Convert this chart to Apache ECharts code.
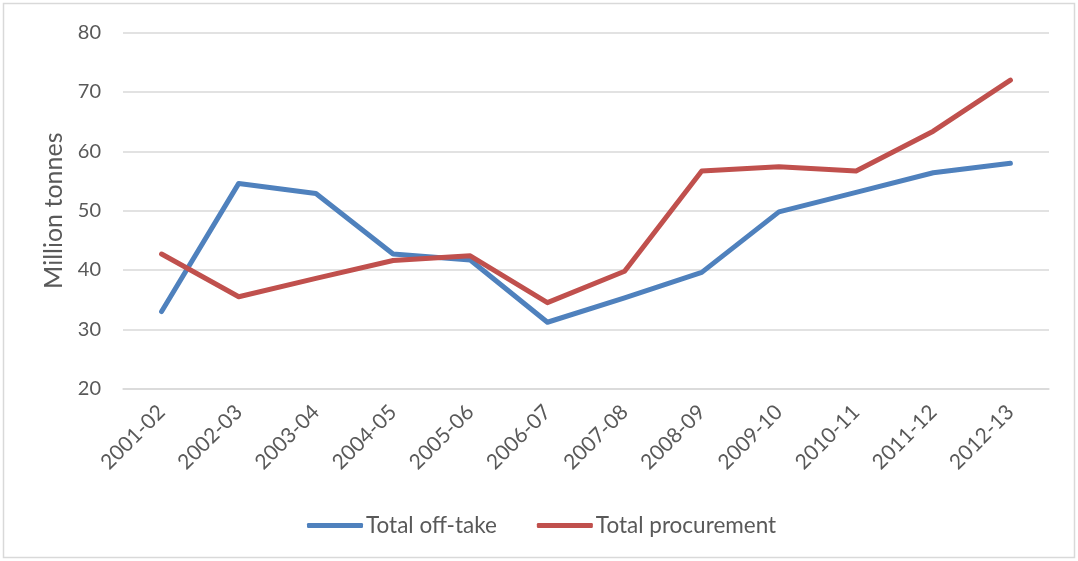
<!DOCTYPE html>
<html>
<head>
<meta charset="utf-8">
<script src="https://cdn.jsdelivr.net/npm/echarts@6/dist/echarts.min.js"></script>
<style>
html,body{margin:0;padding:0;background:#fff;}
#chart{width:1078px;height:561px;}
</style>
</head>
<body>
<div id="chart"></div>
<script>
const categories = ['2001-02','2002-03','2003-04','2004-05','2005-06','2006-07','2007-08','2008-09','2009-10','2010-11','2011-12','2012-13'];
const offTake = [33.0, 54.6, 52.9, 42.7, 41.7, 31.2, 35.3, 39.6, 49.8, 53.1, 56.4, 58.0];
const procurement = [42.7, 35.5, 38.6, 41.6, 42.4, 34.5, 39.8, 56.7, 57.4, 56.7, 63.4, 72.0];
const seriesNames = ['Total off-take', 'Total procurement'];
const yTicks = {min: 20, max: 80, interval: 10};
const yAxisName = 'Million tonnes';

const font = 'Lato, "Noto Sans", sans-serif';
const textColor = '#595959';
const chart = echarts.init(document.getElementById('chart'), null, {renderer: 'canvas'});
chart.setOption({
  animation: false,
  backgroundColor: '#fff',
  textStyle: {fontFamily: font, color: textColor},
  graphic: [{
    type: 'rect',
    shape: {x: 3.5, y: 3.5, width: 1071, height: 554},
    style: {fill: 'none', stroke: '#D9D9D9', lineWidth: 1.5},
    silent: true
  }],
  grid: {left: 123, right: 29, top: 32.7, bottom: 172.3, containLabel: false},
  legend: {
    data: seriesNames,
    left: 302,
    top: 509,
    itemWidth: 56,
    itemHeight: 5,
    itemGap: 40,
    icon: 'roundRect',
    textStyle: {fontFamily: font, fontSize: 22.5, color: textColor, padding: [0,0,0,-2]}
  },
  xAxis: {
    type: 'category',
    data: categories,
    boundaryGap: true,
    axisLine: {show: true, lineStyle: {color: '#D9D9D9', width: 1.5}},
    axisTick: {show: false},
    axisLabel: {
      rotate: 45,
      interval: 0,
      margin: 20,
      fontFamily: font,
      fontSize: 21,
      color: textColor
    }
  },
  yAxis: {
    type: 'value',
    min: yTicks.min,
    max: yTicks.max,
    interval: yTicks.interval,
    name: yAxisName,
    nameLocation: 'middle',
    nameGap: 57,
    nameRotate: 90,
    nameTextStyle: {fontFamily: font, fontSize: 25, color: textColor},
    axisLine: {show: false},
    axisTick: {show: false},
    axisLabel: {margin: 22, fontFamily: font, fontSize: 20, color: textColor},
    splitLine: {lineStyle: {color: '#D9D9D9', width: 1.5}}
  },
  series: [
    {
      name: seriesNames[0], type: 'line', data: offTake,
      symbol: 'none', color: '#4F81BD',
      lineStyle: {width: 5, color: '#4F81BD', cap: 'round', join: 'round'}
    },
    {
      name: seriesNames[1], type: 'line', data: procurement,
      symbol: 'none', color: '#C0504D',
      lineStyle: {width: 5, color: '#C0504D', cap: 'round', join: 'round'}
    }
  ]
});
</script>
</body>
</html>
